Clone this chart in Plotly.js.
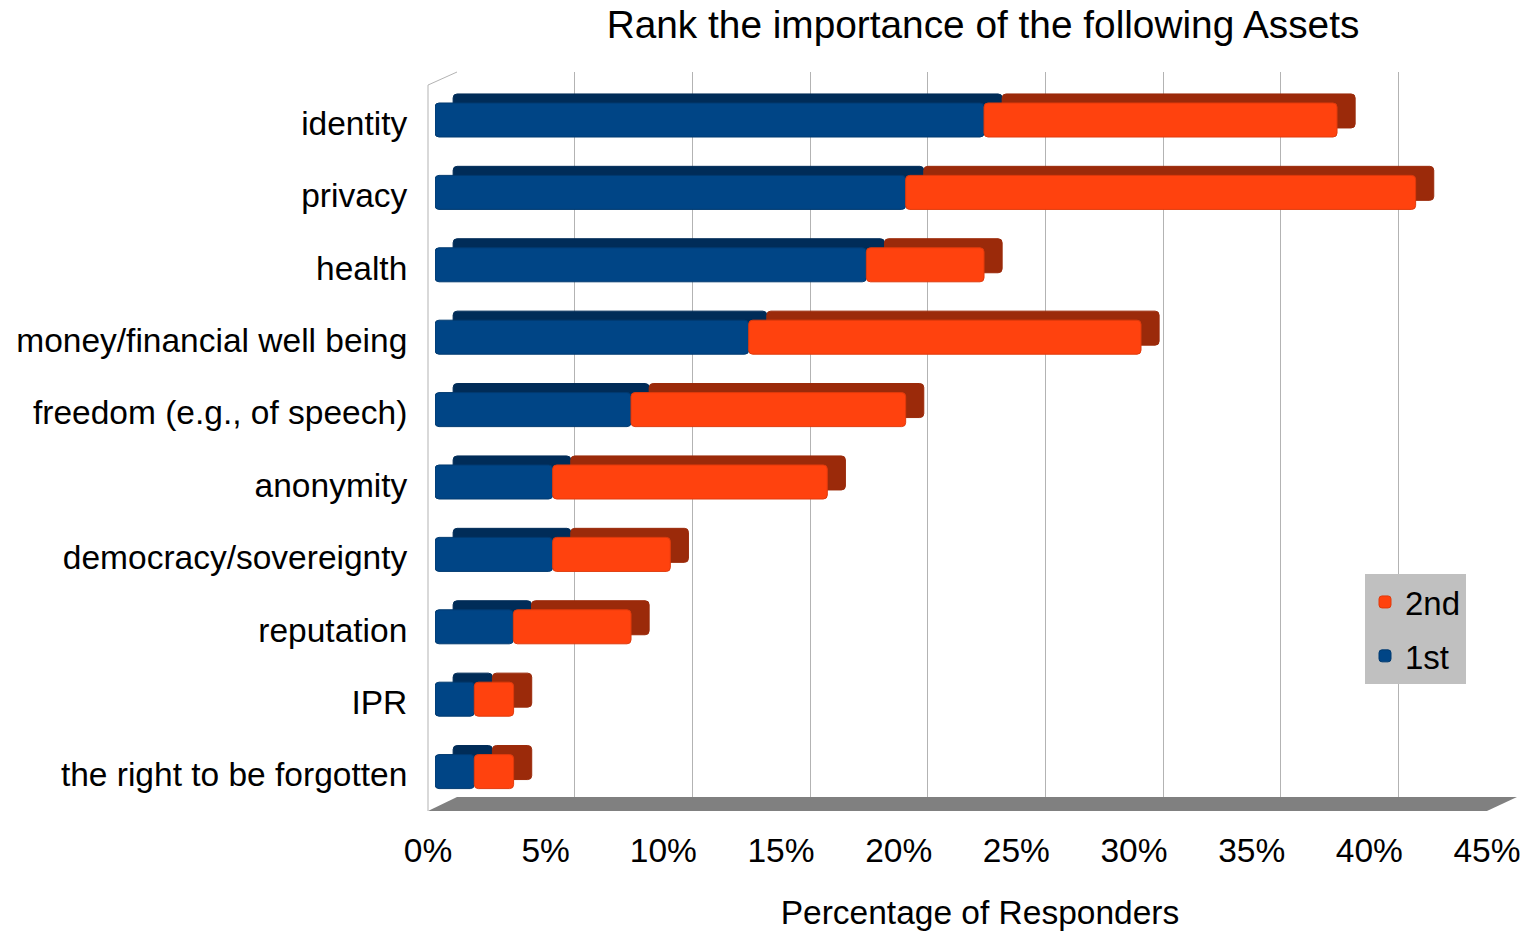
<!DOCTYPE html>
<html>
<head>
<meta charset="utf-8">
<script src="https://cdn.plot.ly/plotly-3.0.1.min.js"></script>
<style>html,body{margin:0;padding:0;background:#fff;}#chart{width:1533px;height:932px;}</style>
</head>
<body>
<div id="chart"></div>
<script>
// ---- data (percentage of responders) ----
var categories = ["identity", "privacy", "health", "money/financial well being",
  "freedom (e.g., of speech)", "anonymity", "democracy/sovereignty",
  "reputation", "IPR", "the right to be forgotten"];
var first = [23.33, 20.0, 18.33, 13.33, 8.33, 5.0, 5.0, 3.33, 1.67, 1.67];
var second = [15.0, 21.67, 5.0, 16.67, 11.67, 11.67, 5.0, 5.0, 1.67, 1.67];
var seriesNames = ["1st", "2nd"];
var tickValues = [0, 5, 10, 15, 20, 25, 30, 35, 40, 45];
var tickLabels = ["0%", "5%", "10%", "15%", "20%", "25%", "30%", "35%", "40%", "45%"];

// ---- style ----
var FONT = '"Liberation Sans", Arial, sans-serif';
var BLUE = '#004586', BLUE_DARK = '#002c58';
var ORANGE = '#ff420e', ORANGE_DARK = '#9b2a0a';
var DEPTH_X = 0.77;      // 3D depth shift along value axis (style)
var BAR_W = 0.47, DEPTH_Y = 0.125;

var zeros = first.map(function(){ return 0; });
var baseBackBlue = first.map(function(){ return DEPTH_X; });
var baseBackOrange = first.map(function(v){ return v + DEPTH_X; });

function barTrace(name, x, base, color, lineColor, offset, legend, rank) {
  return {
    type: 'bar', orientation: 'h', name: name, legendgroup: name, legendrank: rank,
    y: categories, x: x, base: base,
    xaxis: 'x2', yaxis: 'y',
    width: BAR_W, offset: offset,
    marker: {color: color, line: {color: lineColor, width: 1}, cornerradius: 4},
    showlegend: legend, hoverinfo: 'skip'
  };
}

var traces = [
  {type: 'scatter', x: [], y: [], xaxis: 'x', yaxis: 'y', showlegend: false, hoverinfo: 'skip'},
  {type: 'scatter', x: [], y: [], xaxis: 'x3', yaxis: 'y', showlegend: false, hoverinfo: 'skip'},
  barTrace(seriesNames[0], first, baseBackBlue, BLUE_DARK, BLUE_DARK, -BAR_W/2 - DEPTH_Y, false, 2),
  barTrace(seriesNames[1], second, baseBackOrange, ORANGE_DARK, ORANGE_DARK, -BAR_W/2 - DEPTH_Y, false, 1),
  barTrace(seriesNames[0], first, zeros, BLUE, '#003a70', -BAR_W/2, true, 2),
  barTrace(seriesNames[1], second, first, ORANGE, '#e03a0c', -BAR_W/2, true, 1)
];

var PW = 1104; // paper width in px (428..1532)
var layout = {
  width: 1533, height: 932,
  margin: {l: 428, r: 1, t: 72, b: 135, pad: 0},
  paper_bgcolor: '#ffffff', plot_bgcolor: 'rgba(0,0,0,0)',
  barmode: 'overlay',
  font: {family: FONT, size: 33, color: '#000'},
  title: {text: 'Rank the importance of the following Assets', font: {family: FONT, size: 38.8, color: '#000'},
          x: 983/1533, xanchor: 'center', xref: 'container', y: 1 - 24/932, yanchor: 'middle', yref: 'container'},
  xaxis: {domain: [29/PW, 1088/PW], range: [0, 45], anchor: 'y', tickvals: tickValues,
          showgrid: true, gridcolor: '#b3b3b3', gridwidth: 1, showticklabels: false,
          zeroline: false, showline: false, ticks: '', fixedrange: true},
  xaxis2: {domain: [7/PW, 1066/PW], range: [0, 45], anchor: 'y', showgrid: false,
           showticklabels: false, zeroline: false, showline: false, ticks: '', fixedrange: true},
  xaxis3: {domain: [0, 1], range: [0, 1104/23.533], anchor: 'y', tickmode: 'array',
           tickvals: tickValues, ticktext: tickLabels,
           showgrid: false, zeroline: false, showline: false, ticks: 'outside', ticklen: 24,
           tickcolor: 'rgba(0,0,0,0)', tickfont: {family: FONT, size: 33.5, color: '#000'},
           title: {text: 'Percentage of Responders', font: {family: FONT, size: 33.5, color: '#000'}, standoff: 32},
           automargin: false, fixedrange: true},
  yaxis: {type: 'category', categoryorder: 'array', categoryarray: categories, anchor: 'x2',
          range: [9.351, -0.663], autorange: false, showgrid: false, zeroline: false, showline: false,
          ticks: 'outside', ticklen: 20, tickcolor: 'rgba(0,0,0,0)', ticklabelshift: -3,
          tickfont: {family: FONT, size: 33.5, color: '#000'}, automargin: false, fixedrange: true},
  legend: {x: (1365-428)/PW, y: (797-574)/725, xanchor: 'left', yanchor: 'top',
           bgcolor: '#c0c0c0', borderwidth: 0, traceorder: 'grouped', tracegroupgap: 8,
           font: {family: FONT, size: 33, color: '#000'}},
  shapes: [
    {type: 'path', xref: 'paper', yref: 'paper',
     path: 'M 0 -0.0193 L 0.02627 0 L 0.98641 0 L 0.9592 -0.0193 Z',
     fillcolor: '#808080', line: {width: 0}, layer: 'below'},
    {type: 'line', xref: 'paper', yref: 'paper', x0: 0, y0: -0.0193, x1: 0, y1: 0.982,
     line: {color: '#b3b3b3', width: 1}},
    {type: 'line', xref: 'paper', yref: 'paper', x0: 0, y0: 0.982, x1: 0.02627, y1: 1,
     line: {color: '#b3b3b3', width: 1}}
  ],
  hovermode: false
};

Plotly.newPlot('chart', traces, layout, {displayModeBar: false, staticPlot: true});
</script>
</body>
</html>
